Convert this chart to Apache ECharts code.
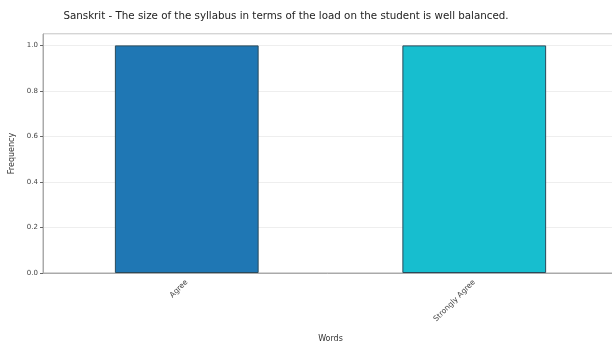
<!DOCTYPE html>
<html>
<head>
<meta charset="utf-8">
<script src="https://cdn.jsdelivr.net/npm/echarts@6/dist/echarts.min.js"></script>
<style>
  html, body { margin: 0; padding: 0; background: #fff; overflow: hidden; }
  #chart { width: 612px; height: 349px; }
</style>
</head>
<body>
<div id="chart"></div>
<script>
// 数据
var categories = ["Agree", "Strongly Agree"];
var frequency = [1, 1];
var barColors = ["#1f77b4", "#17becf"];
var yTicks = [0, 0.2, 0.4, 0.6, 0.8, 1.0];

var chart = echarts.init(document.getElementById("chart"));

var option = {
  animation: false,
  textStyle: { fontFamily: "DejaVu Sans" },
  title: {
    text: "Sanskrit - The size of the syllabus in terms of the load on the student is well balanced.",
    left: 281,
    textAlign: "center",
    top: 6,
    textStyle: { fontSize: 10.3, fontWeight: "normal", color: "#222" }
  },
  grid: {
    left: 43,
    right: -6,
    top: 34,
    bottom: 76,
    outerBoundsMode: "none",
    containLabel: false,
    show: true,
    borderColor: "#aaa",
    borderWidth: 1
  },
  xAxis: {
    type: "category",
    data: categories,
    name: "Words",
    nameLocation: "middle",
    nameGap: 62,
    nameTextStyle: { fontSize: 8, color: "#333" },
    axisLine: { lineStyle: { color: "#aaa" } },
    axisTick: { alignWithLabel: true, length: 3, lineStyle: { color: "#666" } },
    axisLabel: { rotate: 45, fontSize: 7.5, color: "#444", margin: 8 }
  },
  yAxis: {
    type: "value",
    min: 0,
    max: 1.05,
    interval: 0.2,
    name: "Frequency",
    nameLocation: "middle",
    nameGap: 27,
    nameTextStyle: { fontSize: 8, color: "#333" },
    axisLine: { show: true, lineStyle: { color: "#aaa" } },
    axisTick: { show: true, length: 3, lineStyle: { color: "#666" } },
    axisLabel: {
      fontSize: 7,
      color: "#444",
      margin: 5,
      showMaxLabel: false,
      formatter: function (v) { return v.toFixed(1); }
    },
    splitLine: { show: true, lineStyle: { color: "#eee", width: 1 } }
  },
  series: [
    {
      type: "bar",
      barWidth: "50%",
      data: frequency.map(function (v, i) {
        return {
          value: v,
          itemStyle: { color: barColors[i], borderColor: "#2a4a5a", borderWidth: 1 }
        };
      })
    }
  ]
};

chart.setOption(option);
</script>
</body>
</html>
